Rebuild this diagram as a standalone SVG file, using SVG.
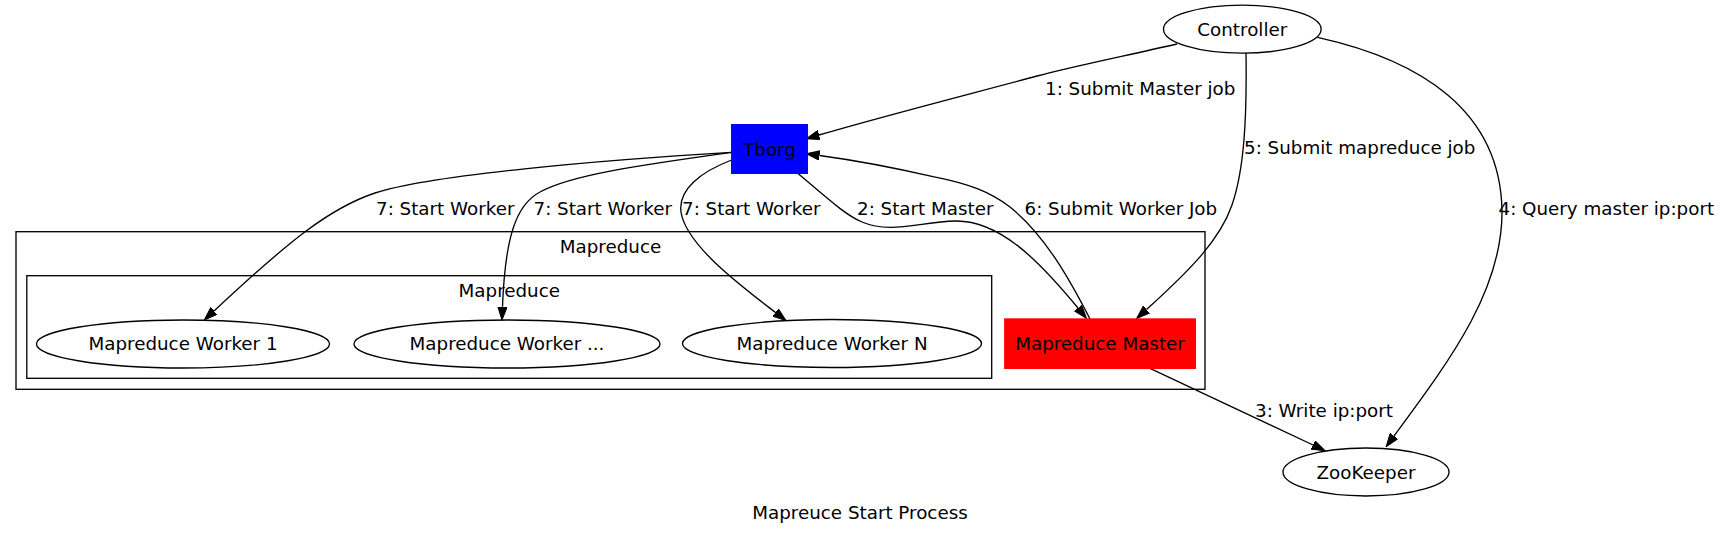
<svg xmlns="http://www.w3.org/2000/svg" width="1721" height="535" viewBox="0 0 1721 535">
<style>
text{font-family:"DejaVu Sans","Liberation Sans",sans-serif;font-size:18.3px;fill:#000}
.c{text-anchor:middle}
.n{fill:none;stroke:#000;stroke-width:1.33}
.cl{fill:none;stroke:#000;stroke-width:1.33}
.e{fill:none;stroke:#000;stroke-width:1.33}
</style>
<defs>
<marker id="ah" viewBox="0 -5 14 10" refX="0" refY="0" markerWidth="14" markerHeight="10" markerUnits="userSpaceOnUse" orient="auto">
<path d="M0,-4.7 L13.3,0 L0,4.7 Z" fill="#000" stroke="#000" stroke-width="1"/>
</marker>
</defs>
<rect width="1721" height="535" fill="#fff"/>
<g id="cluster_outer">
<rect class="cl" x="16" y="231.7" width="1189" height="157.6"/>
<text class="c" x="610.5" y="253">Mapreduce</text>
</g>
<g id="cluster_inner">
<rect class="cl" x="26.8" y="275.7" width="964.9" height="102.6"/>
<text class="c" x="509.3" y="296.7">Mapreduce</text>
</g>
<g id="connectors">
<path class="e" marker-end="url(#ah)" d="M1177,44 C1120,57 1075,66 1037,76 C970,94 880,117 819,135"/>
<path class="e" marker-end="url(#ah)" d="M797.7,173.3 C825,196 845,215 862,222 C890,234 920,222 955,221 C1000,220 1040,262 1078,308"/>
<path class="e" marker-end="url(#ah)" d="M1150,368.3 L1313,445"/>
<path class="e" marker-end="url(#ah)" d="M1317.5,37.3 C1420,60 1500,110 1502,210 C1503,290 1450,360 1394,436"/>
<path class="e" marker-end="url(#ah)" d="M1246,53 C1247,120 1244,170 1232,205 C1220,240 1190,270 1146.5,309.5"/>
<path class="e" marker-end="url(#ah)" d="M1090,319 C1070,280 1045,235 1010,207 C990,192 970,184 933,176.7 C900,169 860,161 819.5,155.5"/>
<path class="e" marker-end="url(#ah)" d="M731.7,152.3 C600,160 430,175 375,193 C330,208 290,240 214,311"/>
<path class="e" marker-end="url(#ah)" d="M731.7,152.3 C640,165 570,175 540,192 C515,205 505,240 502.5,306.7"/>
<path class="e" marker-end="url(#ah)" d="M731.7,160 C700,172 678,190 681,212 C686,245 740,285 775.5,312.5"/>
<text x="1045" y="94.5">1: Submit Master job</text>
<text x="857" y="214.5">2: Start Master</text>
<text x="1255" y="416.7">3: Write ip:port</text>
<text x="1498.5" y="214.5">4: Query master ip:port</text>
<text x="1244" y="154.3">5: Submit mapreduce job</text>
<text x="1024.5" y="214.5">6: Submit Worker Job</text>
<text x="376" y="214.5">7: Start Worker</text>
<text x="533.5" y="214.5">7: Start Worker</text>
<text x="682" y="214.5">7: Start Worker</text>
</g>
<g id="controller">
<ellipse class="n" cx="1242.3" cy="29.2" rx="78.8" ry="24"/>
<text class="c" x="1242.3" y="35.5">Controller</text>
</g>
<g id="tborg">
<rect x="731.7" y="124.7" width="75.6" height="48.6" fill="#0000ff" stroke="#0000ff" stroke-width="1.33"/>
<text class="c" x="769.5" y="155.5">Tborg</text>
</g>
<g id="master">
<rect x="1004.8" y="319" width="190.5" height="49.3" fill="#ff0000" stroke="#ff0000" stroke-width="1.33"/>
<text class="c" x="1100" y="349.5">Mapreduce Master</text>
</g>
<g id="worker1">
<ellipse class="n" cx="183" cy="344" rx="146.5" ry="24"/>
<text class="c" x="183" y="350">Mapreduce Worker 1</text>
</g>
<g id="workerdots">
<ellipse class="n" cx="507" cy="344" rx="153" ry="24"/>
<text class="c" x="507" y="350">Mapreduce Worker ...</text>
</g>
<g id="workerN">
<ellipse class="n" cx="832" cy="343.5" rx="149.5" ry="24"/>
<text class="c" x="832" y="349.5">Mapreduce Worker N</text>
</g>
<g id="zookeeper">
<ellipse class="n" cx="1366" cy="472" rx="83" ry="24"/>
<text class="c" x="1366" y="478.5">ZooKeeper</text>
</g>
<text class="c" x="860" y="519.3">Mapreuce Start Process</text>
</svg>
